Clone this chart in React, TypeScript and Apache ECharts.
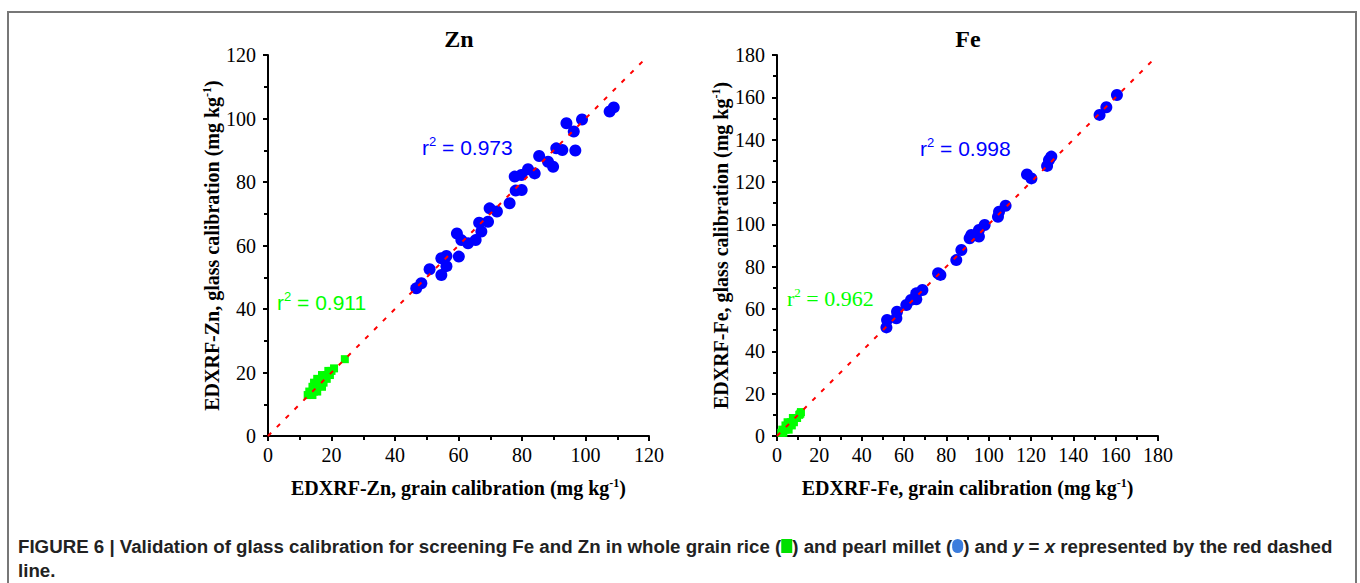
import React, { useEffect, useRef } from 'react';
import * as echarts from 'echarts';

// Zn panel (mg/kg): grain calibration (x) vs glass calibration (y)
const znRiceGrain = [12.5, 14.0, 13.0, 14.5, 15.5, 14.0, 15.5, 17.0, 14.5, 16.0, 17.5, 15.5, 17.0, 18.5, 17.0, 18.5, 19.5, 19.0, 20.0, 20.8, 24.2];
const znRiceGlass = [12.9, 12.9, 14.0, 14.0, 14.0, 15.5, 15.5, 15.5, 16.8, 16.8, 16.8, 18.0, 18.0, 18.0, 19.2, 19.2, 19.2, 20.5, 20.5, 21.3, 24.2];
const znMilletGrain = [46.7, 48.3, 50.9, 54.6, 54.6, 56.2, 56.2, 60.1, 59.5, 60.9, 63.0, 65.4, 67.2, 66.5, 69.3, 69.8, 72.1, 76.1, 78.0, 79.9, 77.7, 79.8, 81.9, 84.0, 85.4, 88.2, 89.8, 90.8, 92.7, 94.0, 96.3, 96.8, 98.9, 107.6, 108.9];
const znMilletGlass = [46.5, 48.1, 52.5, 50.7, 56.0, 56.7, 53.5, 56.5, 63.8, 61.7, 60.7, 61.7, 64.4, 67.2, 67.5, 71.7, 70.7, 73.3, 77.3, 77.5, 81.7, 82.2, 84.0, 82.7, 88.2, 86.4, 84.8, 90.6, 90.1, 98.5, 95.9, 89.9, 99.7, 102.2, 103.5];
const znIdentity = [0, 118];

// Fe panel (mg/kg)
const feRiceGrain = [2.0, 3.0, 2.5, 4.0, 5.5, 4.0, 5.5, 7.0, 5.0, 6.5, 8.0, 7.5, 9.5, 10.5, 11.0, 11.3];
const feRiceGlass = [1.5, 1.5, 3.0, 3.0, 3.0, 5.0, 5.0, 5.0, 6.5, 6.5, 6.5, 8.5, 8.5, 10.0, 10.5, 11.3];
const feMilletGrain = [51.7, 52.0, 56.4, 56.7, 61.1, 63.3, 65.8, 65.8, 68.7, 76.1, 77.2, 84.7, 87.1, 91.0, 91.8, 95.4, 95.4, 98.1, 104.4, 104.9, 108.0, 118.1, 120.2, 127.6, 128.5, 129.6, 152.4, 155.6, 160.6];
const feMilletGlass = [51.3, 54.8, 55.6, 58.7, 61.9, 64.3, 64.6, 67.4, 69.0, 76.9, 76.1, 83.1, 87.9, 93.4, 95.0, 94.2, 97.3, 99.7, 103.6, 106.0, 108.8, 123.6, 121.7, 127.6, 130.4, 132.0, 151.7, 155.3, 161.1];
const feIdentity = [0, 177];

const znMax = 120;
const feMax = 180;
const tickStep = 20;

const znR2Millet = '0.973';
const znR2Rice = '0.911';
const feR2Millet = '0.998';
const feR2Rice = '0.962';

const zip = (xs: number[], ys: number[]) => xs.map((x, i) => [x, ys[i]]);

const SERIF = "'Liberation Serif', 'Times New Roman', serif";
const SANS = "'Liberation Sans', Arial, sans-serif";

function axis(gridIndex: number, max: number, name: string, isX: boolean) {
  return {
    type: 'value',
    gridIndex,
    min: 0,
    max,
    interval: tickStep,
    name: `{b|${name} (mg kg}{s|-1}{b|)}`,
    nameLocation: 'middle',
    nameGap: isX ? 41 : 45,
    nameTextStyle: {
      rich: {
        b: { fontFamily: SERIF, fontWeight: 'bold', fontSize: 20, color: '#000' },
        s: { fontFamily: SERIF, fontWeight: 'bold', fontSize: 12, color: '#000', padding: [0, 0, 10, 0] },
      },
    },
    axisLine: { show: true, onZero: false, lineStyle: { color: '#000', width: 2 } },
    axisTick: { show: true, inside: false, length: 5, lineStyle: { color: '#000', width: 2 } },
    minorTick: { show: true, splitNumber: 2, length: 4, lineStyle: { color: '#000', width: 2 } },
    splitLine: { show: false },
    axisLabel: { color: '#000', fontFamily: SERIF, fontSize: 20, margin: isX ? 9 : 12 },
  };
}

function r2Text(x: number, y: number, val: string, color: string, font: string, size: number) {
  return {
    type: 'text',
    x,
    y,
    style: {
      text: `{a|r}{s|2}{a| = ${val}}`,
      verticalAlign: 'middle',
      rich: {
        a: { fontFamily: font, fontSize: size, fill: color },
        s: { fontFamily: font, fontSize: 13, fill: color, padding: [0, 0, 11, 0] },
      },
    },
  };
}

export default function App() {
  const ref = useRef<HTMLDivElement>(null);
  useEffect(() => {
    if (!ref.current) return;
    const chart = echarts.init(ref.current, undefined, { renderer: 'svg' });
    const grids = [
      { left: 268, top: 55, width: 381, height: 381 },
      { left: 777, top: 55, width: 381, height: 381 },
    ];
    const rice = { symbol: 'rect', symbolSize: 8, itemStyle: { color: '#00ff00', opacity: 1 }, z: 2 };
    const millet = { symbol: 'circle', symbolSize: 12, itemStyle: { color: '#0000ff', opacity: 1 }, z: 2 };
    const ident = { symbol: 'none', lineStyle: { color: '#ff0000', width: 2, type: [4.5, 8] }, z: 5 };
    const option: any = {
      animation: false,
      backgroundColor: '#fff',
      grid: grids,
      xAxis: [
        axis(0, znMax, 'EDXRF-Zn, grain calibration', true),
        axis(1, feMax, 'EDXRF-Fe, grain calibration', true),
      ],
      yAxis: [
        axis(0, znMax, 'EDXRF-Zn, glass calibration', false),
        axis(1, feMax, 'EDXRF-Fe, glass calibration', false),
      ],
      series: [
        { name: 'Zn rice', type: 'scatter', xAxisIndex: 0, yAxisIndex: 0, ...rice, data: zip(znRiceGrain, znRiceGlass) },
        { name: 'Zn pearl millet', type: 'scatter', xAxisIndex: 0, yAxisIndex: 0, ...millet, data: zip(znMilletGrain, znMilletGlass) },
        { name: 'Zn y = x', type: 'line', xAxisIndex: 0, yAxisIndex: 0, ...ident, data: zip(znIdentity, znIdentity) },
        { name: 'Fe rice', type: 'scatter', xAxisIndex: 1, yAxisIndex: 1, ...rice, data: zip(feRiceGrain, feRiceGlass) },
        { name: 'Fe pearl millet', type: 'scatter', xAxisIndex: 1, yAxisIndex: 1, ...millet, data: zip(feMilletGrain, feMilletGlass) },
        { name: 'Fe y = x', type: 'line', xAxisIndex: 1, yAxisIndex: 1, ...ident, data: zip(feIdentity, feIdentity) },
      ],
      graphic: [
        { type: 'rect', silent: true, shape: { x: 8, y: 12, width: 1348, height: 620 }, style: { fill: 'none', stroke: '#777', lineWidth: 2 } },
        { type: 'text', x: 459, y: 39, style: { text: 'Zn', fontFamily: SERIF, fontWeight: 'bold', fontSize: 24, fill: '#000', align: 'center', verticalAlign: 'middle' } },
        { type: 'text', x: 968, y: 39, style: { text: 'Fe', fontFamily: SERIF, fontWeight: 'bold', fontSize: 24, fill: '#000', align: 'center', verticalAlign: 'middle' } },
        r2Text(422, 147, znR2Millet, '#0000ff', SANS, 21),
        r2Text(277, 302, znR2Rice, '#00ff00', SANS, 21),
        r2Text(920, 148, feR2Millet, '#0000ff', SANS, 21),
        r2Text(787, 298, feR2Rice, '#00ff00', SERIF, 22),
        {
          type: 'text',
          x: 18,
          y: 534,
          style: {
            text:
              '{b|FIGURE 6 | Validation of glass calibration for screening Fe and Zn in whole grain rice (}{sq| }{b|) and pearl millet (}{ci| }{b|) and }{i|y}{b| = }{i|x}{b| represented by the red dashed}\n{b|line.}',
            verticalAlign: 'top',
            rich: {
              b: { fontFamily: SANS, fontWeight: 'bold', fontSize: 18.7, fill: '#222', lineHeight: 24 },
              i: { fontFamily: SANS, fontWeight: 'bold', fontStyle: 'italic', fontSize: 18.7, fill: '#222', lineHeight: 24 },
              sq: { width: 11, height: 14, backgroundColor: '#00e000', lineHeight: 24 },
              ci: { width: 11, height: 14, backgroundColor: '#3b7ddd', borderRadius: 5.5, lineHeight: 24 },
            },
          },
        },
      ],
    };
    chart.setOption(option);
    return () => chart.dispose();
  }, []);
  return <div ref={ref} style={{ position: 'absolute', left: 0, top: 0, width: 1360, height: 583, background: '#fff' }} />;
}
